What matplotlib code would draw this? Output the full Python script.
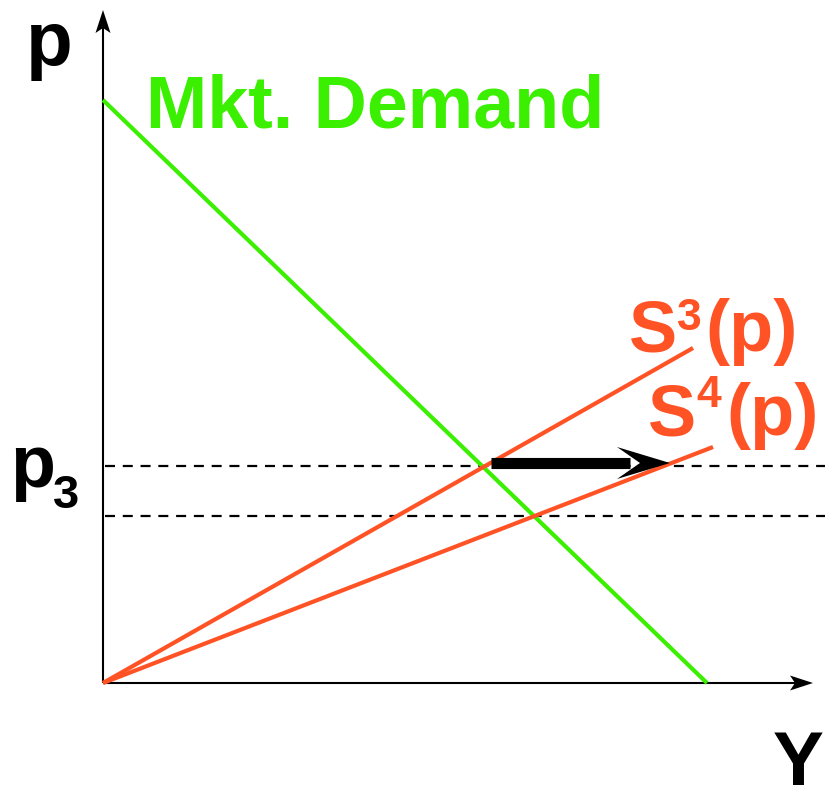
import matplotlib
matplotlib.use("Agg")
import matplotlib.pyplot as plt
from matplotlib.patches import Polygon

# ---- data (units: abstract quantity / price, origin at axes corner) ----
demand_x = [0, 604]          # quantity at p-intercept and at p = 0
demand_y = [583, 0]
s3_x = [0, 590]
s3_y = [0, 335]
s4_x = [0, 610]
s4_y = [0, 236]
price_levels = [217, 167]    # p3 and the lower equilibrium price
shift_arrow_x = [386, 567]   # horizontal shift at p3
shift_arrow_y = 220
axis_x_end = 710
axis_y_end = 673

GREEN = "#3AF000"
ORANGE = "#FF5225"

plt.rcParams['font.family'] = ['Liberation Sans', 'DejaVu Sans']

fig = plt.figure(figsize=(8.25, 7.9), dpi=100)
ax = fig.add_axes([0, 0, 1, 1])
ax.set_xlim(-103, 722)
ax.set_ylim(-107, 683)
ax.axis('off')


def head(ax, tip, direction, length, half, notch, color):
    # stealth-style arrowhead polygon
    tx, ty = tip
    dx, dy = direction
    px, py = -dy, dx
    bx, by = tx - dx * length, ty - dy * length
    nx, ny = tx - dx * (length - notch), ty - dy * (length - notch)
    pts = [(tx, ty), (bx + px * half, by + py * half), (nx, ny),
           (bx - px * half, by - py * half)]
    ax.add_patch(Polygon(pts, closed=True, color=color, lw=0, zorder=6))


# axes
ax.plot([0, axis_x_end - 10], [0, 0], color='black', lw=1.5, zorder=3,
        solid_capstyle='butt')
ax.plot([0, 0], [0, axis_y_end - 10], color='black', lw=1.5, zorder=3,
        solid_capstyle='butt')
head(ax, (axis_x_end, 0), (1, 0), 23, 7.5, 5, 'black')
head(ax, (0, axis_y_end), (0, 1), 23, 7.5, 5, 'black')

# dashed price levels
for p in price_levels:
    ax.plot([2, 722], [p, p], color='black', lw=1.6,
            linestyle=(0, (4.5, 3.5)), zorder=2)

# curves
ax.plot(demand_x, demand_y, color=GREEN, lw=3.0, zorder=4,
        solid_capstyle='butt')
ax.plot(s3_x, s3_y, color=ORANGE, lw=3.0, zorder=4, solid_capstyle='butt')
ax.plot(s4_x, s4_y, color=ORANGE, lw=3.0, zorder=4, solid_capstyle='butt')

# shift arrow
ax.plot([shift_arrow_x[0] + 2, shift_arrow_x[1] - 40], [shift_arrow_y] * 2,
        color='black', lw=8, solid_capstyle='butt', zorder=5)
head(ax, (shift_arrow_x[1], shift_arrow_y), (1, 0), 53, 16, 23, 'black')

# labels
ax.text(-77, 618, "p", fontsize=55, fontweight='bold', color='black',
        ha='left', va='baseline')
ax.text(43, 555, "Mkt. Demand", fontsize=53, fontweight='bold', color=GREEN,
        ha='left', va='baseline')

ax.text(526, 332, "S", fontsize=52, fontweight='bold', color=ORANGE,
        ha='left', va='baseline')
ax.text(574, 353, "3", fontsize=32, fontweight='bold', color=ORANGE,
        ha='left', va='baseline')
ax.text(602, 332, "(p)", fontsize=52, fontweight='bold', color=ORANGE,
        ha='left', va='baseline')

ax.text(545, 248, "S", fontsize=52, fontweight='bold', color=ORANGE,
        ha='left', va='baseline')
ax.text(593, 276, "4", fontsize=32, fontweight='bold', color=ORANGE,
        ha='left', va='baseline')
ax.text(623, 248, "(p)", fontsize=52, fontweight='bold', color=ORANGE,
        ha='left', va='baseline')

ax.text(-93, 196, "p", fontsize=53, fontweight='bold', color='black',
        ha='left', va='baseline')
ax.text(-50, 175, "3", fontsize=34, fontweight='bold', color='black',
        ha='left', va='baseline')

ax.text(670, -102, "Y", fontsize=55, fontweight='bold', color='black',
        ha='left', va='baseline')

fig.savefig("out.png", dpi=100)
